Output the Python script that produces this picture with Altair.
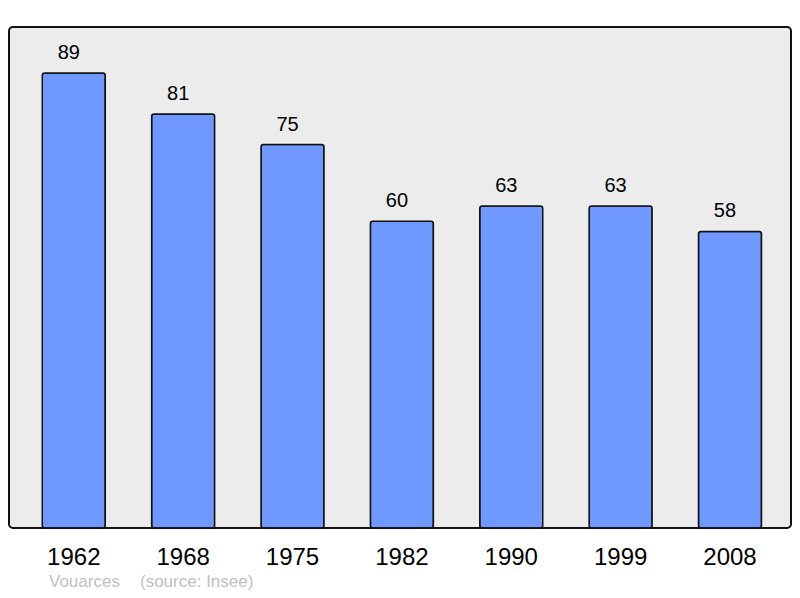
import altair as alt
import pandas as pd

years = ["1962", "1968", "1975", "1982", "1990", "1999", "2008"]
population = [89, 81, 75, 60, 63, 63, 58]
commune = "Vouarces"
source = "(source: Insee)"

df = pd.DataFrame({"year": years, "pop": population})

FONT = "Liberation Sans"

x = alt.X("year:N", sort=None,
          scale=alt.Scale(paddingInner=0.424, paddingOuter=0.287, align=0.53),
          axis=alt.Axis(title=None, labelAngle=0, domain=False, ticks=False, tickSize=0,
                        labelFontSize=24, labelColor="black", labelFont=FONT,
                        labelBaseline="alphabetic", labelPadding=36.5, grid=False))
y = alt.Y("pop:Q", scale=alt.Scale(domain=[0, 98], nice=False, zero=True), axis=None)

bars = alt.Chart(df).mark_bar(
    color="#7099ff", stroke="#111111", strokeWidth=1.5, cornerRadius=2.5
).encode(x=x, y=y)

labels = alt.Chart(df).mark_text(
    baseline="alphabetic", dy=-14, dx=-5, fontSize=20, font=FONT, color="black"
).encode(x=x, y=y, text="pop:Q")

foot1 = alt.Chart(alt.Data(values=[{"t": commune}])).mark_text(
    align="left", baseline="alphabetic", fontSize=17, font=FONT, color="#c0c0c0"
).encode(x=alt.value(40), y=alt.value(560), text="t:N")

foot2 = alt.Chart(alt.Data(values=[{"t": source}])).mark_text(
    align="left", baseline="alphabetic", fontSize=17, font=FONT, color="#c0c0c0"
).encode(x=alt.value(131), y=alt.value(560), text="t:N")

chart = alt.layer(bars, labels, foot1, foot2).properties(
    width=782, height=501,
    padding={"left": 1, "top": 19, "right": 1, "bottom": 62},
    autosize=alt.AutoSizeParams(type="none"),
    background="white",
).configure_view(
    fill="#ececec", stroke="#111111", strokeWidth=2, cornerRadius=4
)

chart.save("out.html", embed_options={"renderer": "svg", "actions": False})
